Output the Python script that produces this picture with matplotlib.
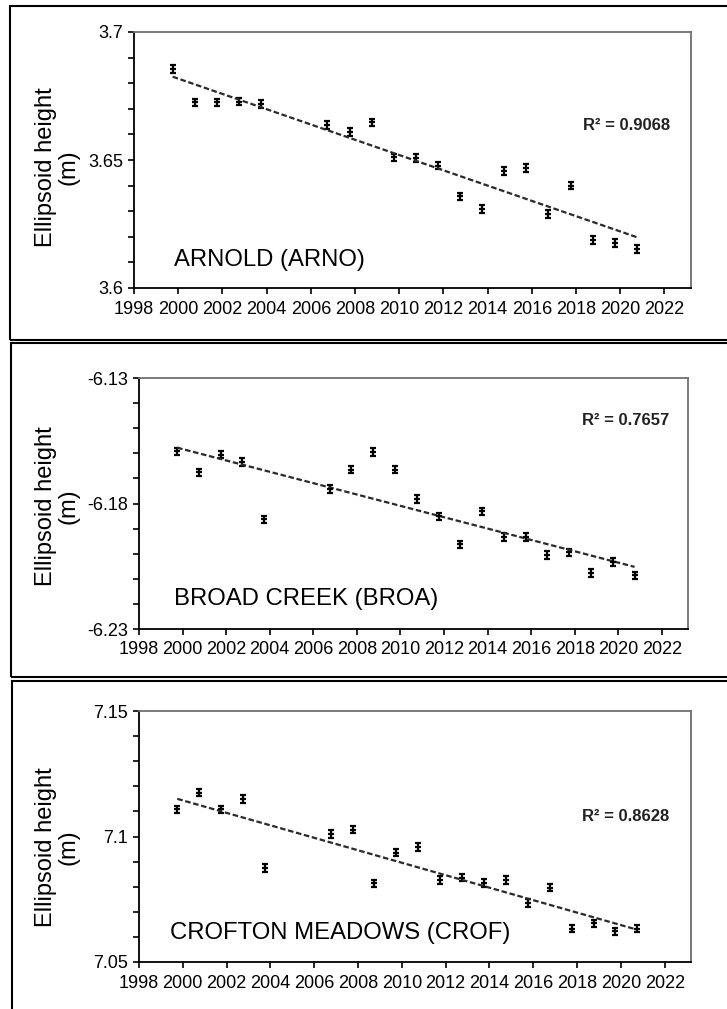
"""Ellipsoid height time series for three CORS stations, stacked panels."""
import numpy as np
import matplotlib
matplotlib.use("Agg")
import matplotlib.pyplot as plt
from matplotlib.patches import Rectangle
from matplotlib.ticker import MultipleLocator

plt.rcParams["font.family"] = ["Liberation Sans", "DejaVu Sans"]

years = [1999.75, 2000.75, 2001.75, 2002.75, 2003.75, 2006.75, 2007.75, 2008.75,
         2009.75, 2010.75, 2011.75, 2012.75, 2013.75, 2014.75, 2015.75, 2016.75,
         2017.75, 2018.75, 2019.75, 2020.75]

arno = [3.6856, 3.6725, 3.6725, 3.6728, 3.6718, 3.6637, 3.6609, 3.6647, 3.6510, 3.6507,
        3.6478, 3.6358, 3.6309, 3.6458, 3.6469, 3.6290, 3.6400, 3.6188, 3.6175, 3.6153]
broa = [-6.1592, -6.1676, -6.1605, -6.1635, -6.1863, -6.1742, -6.1665, -6.1595, -6.1665,
        -6.1783, -6.1851, -6.1963, -6.1831, -6.1933, -6.1933, -6.2005, -6.1995, -6.2076,
        -6.2033, -6.2086]
crof = [7.1108, 7.1175, 7.1108, 7.1149, 7.0875, 7.1009, 7.1027, 7.0813, 7.0936, 7.0958,
        7.0827, 7.0836, 7.0815, 7.0827, 7.0735, 7.0796, 7.0633, 7.0654, 7.0622, 7.0633]
err = 0.0015

names = ["ARNOLD (ARNO)", "BROAD CREEK (BROA)", "CROFTON MEADOWS (CROF)"]
r2_labels = ["R² = 0.9068", "R² = 0.7657", "R² = 0.8628"]
ylims = [(3.6, 3.7), (-6.23, -6.13), (7.05, 7.15)]
yticks = [[3.6, 3.65, 3.7], [-6.23, -6.18, -6.13], [7.05, 7.1, 7.15]]
yticklabels = [["3.6", "3.65", "3.7"], ["-6.23", "-6.18", "-6.13"], ["7.05", "7.1", "7.15"]]
series = [arno, broa, crof]

W, H = 727, 1009
fig = plt.figure(figsize=(W / 100, H / 100), dpi=100)

# pixel layout: (axes left, right, top, bottom), (box left, top, bottom)
axes_px = [(134, 691, 32, 288), (139, 688, 378, 629), (139, 691, 711, 962)]
boxes_px = [(10, 6, 340), (11, 343, 677), (12, 681, 1015)]
ylabel_y = [167, 506, 847]
name_pos = [(0.072, 0.11), (0.064, 0.12), (0.057, 0.114)]
r2_pos = [(0.962, 0.633), (0.966, 0.83), (0.96, 0.578)]

for i in range(3):
    l, r, t, b = axes_px[i]
    bl, bt, bb = boxes_px[i]
    fig.patches.append(Rectangle((bl / W, 1 - bb / H), (W + 20 - bl) / W, (bb - bt) / H,
                                 transform=fig.transFigure, fill=False,
                                 edgecolor="black", linewidth=1.5))

    ax = fig.add_axes([l / W, 1 - b / H, (r - l) / W, (b - t) / H])
    x = np.array(years)
    y = np.array(series[i])
    ax.errorbar(x, y, yerr=err, fmt="_", color="black", markersize=4.5,
                markeredgewidth=1.6, ecolor="black", elinewidth=1.6,
                capsize=2.3, capthick=1.8)

    k, c = np.polyfit(x, y, 1)
    ax.plot([x[0], x[-1]], [k * x[0] + c, k * x[-1] + c], color="#2a2a2a",
            linewidth=1.6, linestyle=(0, (2.5, 1.2)))

    ax.set_xlim(1998, 2023.2)
    ax.set_ylim(*ylims[i])
    ax.set_xticks(range(1998, 2023, 2))
    ax.set_yticks(yticks[i])
    ax.set_yticklabels(yticklabels[i])
    ax.yaxis.set_minor_locator(MultipleLocator(0.01))
    ax.tick_params(which="both", direction="out", length=4, width=1.2,
                   labelsize=13, color="black")
    ax.tick_params(axis="x", pad=5)
    ax.tick_params(axis="y", pad=4)
    ax.tick_params(top=False, right=False)

    for side in ("left", "bottom"):
        ax.spines[side].set_color("black")
        ax.spines[side].set_linewidth(1.3)
    for side in ("top", "right"):
        ax.spines[side].set_color("#707070")
        ax.spines[side].set_linewidth(1.3)

    ax.text(*name_pos[i], names[i], transform=ax.transAxes, fontsize=17.2,
            ha="left", va="center", color="black")
    ax.text(*r2_pos[i], r2_labels[i], transform=ax.transAxes, fontsize=12,
            fontweight="bold", ha="right", va="center", color="#222222")

    fig.text(57 / W, 1 - ylabel_y[i] / H, "Ellipsoid height\n(m)", rotation=90,
             ha="center", va="center", fontsize=17, linespacing=1.0)

fig.savefig("out.png", dpi=100)
